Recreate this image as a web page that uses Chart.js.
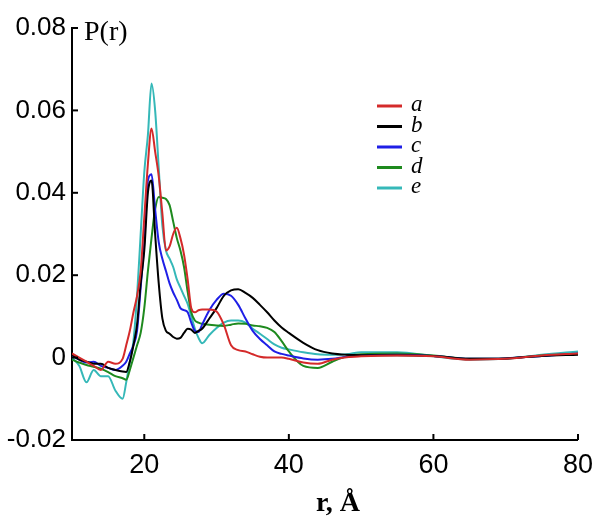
<!DOCTYPE html>
<html>
<head>
<meta charset="utf-8">
<script src="https://cdn.jsdelivr.net/npm/chart.js@4.4.1/dist/chart.umd.min.js"></script>
<style>
  html, body { margin: 0; padding: 0; background: #fff; }
</style>
</head>
<body>
<canvas id="c" width="602" height="518"></canvas>
<script>
// r grid (Angstrom), shared by all curves
var rValues = [10, 11, 12, 13, 14, 15, 16, 17, 17.5, 18, 18.5, 19, 19.5, 20, 20.5, 21, 21.5, 22, 22.5, 23,
  23.5, 24, 24.5, 25, 25.5, 26, 26.5, 27, 27.5, 28, 29, 30, 31, 32, 33, 34, 35, 36, 37, 38,
  39, 40, 42, 44, 46, 48, 50, 55, 60, 65, 70, 75, 80];

var seriesA = [0.001, 0.000, -0.001, -0.002, -0.003, -0.001, -0.0015, -0.0003, 0.003, 0.0065,
  0.011, 0.015, 0.021, 0.034, 0.047, 0.0556, 0.050, 0.044, 0.035, 0.026,
  0.027, 0.030, 0.0315, 0.029, 0.025, 0.019, 0.012, 0.011, 0.0115, 0.0117,
  0.0117, 0.0112, 0.008, 0.003, 0.0018, 0.0015, 0.0008, 0.0002, 0.0, 0.0,
  0.0, -0.0003, -0.0012, -0.0015, -0.0005, 0.0001, 0.0003, 0.0005, 0.0003, -0.0005,
  -0.0003, 0.0005, 0.001];

var seriesB = [0.0007, -0.0005, -0.001, -0.0015, -0.0015, -0.0025, -0.003, -0.0034, -0.0035, -0.001,
  0.003, 0.008, 0.018, 0.026, 0.040, 0.043, 0.030, 0.018, 0.0095, 0.0065,
  0.0058, 0.005, 0.0046, 0.0048, 0.006, 0.007, 0.0068, 0.006, 0.0065, 0.007,
  0.0095, 0.012, 0.015, 0.0163, 0.0166, 0.0157, 0.0145, 0.0128, 0.011, 0.009,
  0.0073, 0.006, 0.0036, 0.0018, 0.001, 0.0007, 0.0006, 0.0006, 0.0004, -0.0003,
  -0.0002, 0.0004, 0.0007];

var seriesC = [0.0005, -0.0005, -0.0012, -0.001, -0.002, -0.0025, -0.003, -0.002, -0.001, 0.001,
  0.003, 0.0065, 0.017, 0.028, 0.043, 0.0445, 0.036, 0.028, 0.024, 0.021,
  0.018, 0.0158, 0.014, 0.012, 0.0115, 0.011, 0.0085, 0.0065, 0.0062, 0.008,
  0.0115, 0.014, 0.0155, 0.015, 0.0128, 0.0095, 0.0065, 0.0045, 0.003, 0.0015,
  0.0009, 0.0005, -0.0002, -0.0005, -0.0003, 0.0002, 0.0005, 0.0007, 0.0004, -0.0003,
  -0.0002, 0.0004, 0.001];

var seriesD = [-0.0005, -0.0012, -0.0018, -0.0022, -0.0027, -0.0035, -0.0045, -0.005, -0.0054, -0.003,
  0.000, 0.003, 0.006, 0.012, 0.021, 0.029, 0.036, 0.039, 0.0388, 0.0385,
  0.037, 0.033, 0.029, 0.026, 0.022, 0.016, 0.011, 0.009, 0.0085, 0.0082,
  0.008, 0.0078, 0.0077, 0.008, 0.0083, 0.0082, 0.0078, 0.0076, 0.0072, 0.0062,
  0.004, 0.0015, -0.002, -0.0025, -0.001, 0.0003, 0.0008, 0.001, 0.0005, -0.0003,
  -0.0002, 0.0005, 0.001];

var seriesE = [0.000, -0.002, -0.006, -0.003, -0.0045, -0.0045, -0.008, -0.010, -0.006, -0.001,
  0.004, 0.015, 0.030, 0.045, 0.054, 0.0665, 0.060, 0.046, 0.032, 0.026,
  0.024, 0.022, 0.019, 0.017, 0.015, 0.013, 0.010, 0.007, 0.0048, 0.0035,
  0.0055, 0.0072, 0.0085, 0.009, 0.009, 0.0085, 0.007, 0.0058, 0.0045, 0.0032,
  0.0024, 0.002, 0.0013, 0.0008, 0.0007, 0.0008, 0.0013, 0.0013, 0.0003, -0.0005,
  -0.0003, 0.0007, 0.0015];

var seriesLabels = ['a', 'b', 'c', 'd', 'e'];
var seriesColors = ['#d42a2a', '#000000', '#1f1fe6', '#1e8a1e', '#35b8b8'];
var xTicks = [20, 40, 60, 80];
var yTicks = [-0.02, 0, 0.02, 0.04, 0.06, 0.08];

function toPoints(vals) {
  return vals.map(function (v, i) { return { x: rValues[i], y: v }; });
}

var allSeries = [seriesA, seriesB, seriesC, seriesD, seriesE];
var datasets = allSeries.map(function (s, i) {
  return {
    label: seriesLabels[i],
    data: toPoints(s),
    borderColor: seriesColors[i],
    backgroundColor: seriesColors[i],
    borderWidth: 2,
    pointRadius: 0,
    cubicInterpolationMode: 'monotone',
    fill: false
  };
});

// inward ticks, axis titles and the little legend inside the plot
var decor = {
  id: 'decor',
  afterDraw: function (chart) {
    var ctx = chart.ctx;
    var xs = chart.scales.x, ys = chart.scales.y, area = chart.chartArea;
    ctx.save();
    ctx.strokeStyle = '#000';
    ctx.lineWidth = 2;
    xTicks.forEach(function (v) {
      var px = xs.getPixelForValue(v);
      ctx.beginPath();
      ctx.moveTo(px, area.bottom);
      ctx.lineTo(px, area.bottom - 6);
      ctx.stroke();
    });
    yTicks.forEach(function (v) {
      var py = ys.getPixelForValue(v);
      ctx.beginPath();
      ctx.moveTo(area.left, py);
      ctx.lineTo(area.left + 6, py);
      ctx.stroke();
    });

    ctx.fillStyle = '#000';
    ctx.textBaseline = 'alphabetic';
    // y title
    ctx.font = '28px "Liberation Serif", serif';
    ctx.textAlign = 'left';
    ctx.fillText('P(r)', 84, 40);
    // x title
    ctx.font = 'bold 28px "Liberation Serif", serif';
    ctx.textAlign = 'center';
    ctx.fillText('r, Å', 338, 511);

    // legend
    ctx.font = 'italic 23px "Liberation Serif", serif';
    ctx.textAlign = 'left';
    ctx.textBaseline = 'middle';
    chart.data.datasets.forEach(function (ds, i) {
      var y = 106 + i * 20.5;
      ctx.strokeStyle = ds.borderColor;
      ctx.lineWidth = 3;
      ctx.beginPath();
      ctx.moveTo(377, y);
      ctx.lineTo(402, y);
      ctx.stroke();
      ctx.fillStyle = '#000';
      ctx.fillText(ds.label, 411, y - 1);
    });
    ctx.restore();
  }
};

new Chart(document.getElementById('c'), {
  type: 'line',
  data: { datasets: datasets },
  plugins: [decor],
  options: {
    responsive: false,
    animation: false,
    devicePixelRatio: 1,
    layout: { padding: { top: 28, right: 23, left: 0, bottom: 0 } },
    plugins: { legend: { display: false }, tooltip: { enabled: false } },
    scales: {
      x: {
        type: 'linear',
        min: 10,
        max: 80,
        afterFit: function (scale) { scale.height = 78; },
        afterBuildTicks: function (scale) {
          scale.ticks = xTicks.map(function (v) { return { value: v }; });
        },
        grid: { display: true, drawOnChartArea: false, drawTicks: false },
        border: { display: true, color: '#000', width: 2 },
        ticks: {
          color: '#000',
          padding: 9,
          maxRotation: 0,
          font: { family: '"Liberation Sans", Arial, sans-serif', size: 27 }
        }
      },
      y: {
        min: -0.02,
        max: 0.08,
        afterFit: function (scale) { scale.width = 72; },
        afterBuildTicks: function (scale) {
          scale.ticks = yTicks.map(function (v) { return { value: v }; });
        },
        grid: { display: true, drawOnChartArea: false, drawTicks: false },
        border: { display: true, color: '#000', width: 2 },
        ticks: {
          color: '#000',
          padding: 6,
          font: { family: '"Liberation Sans", Arial, sans-serif', size: 26 },
          callback: function (v) { return v === 0 ? '0' : Number(v).toFixed(2); }
        }
      }
    }
  }
});
</script>
</body>
</html>
